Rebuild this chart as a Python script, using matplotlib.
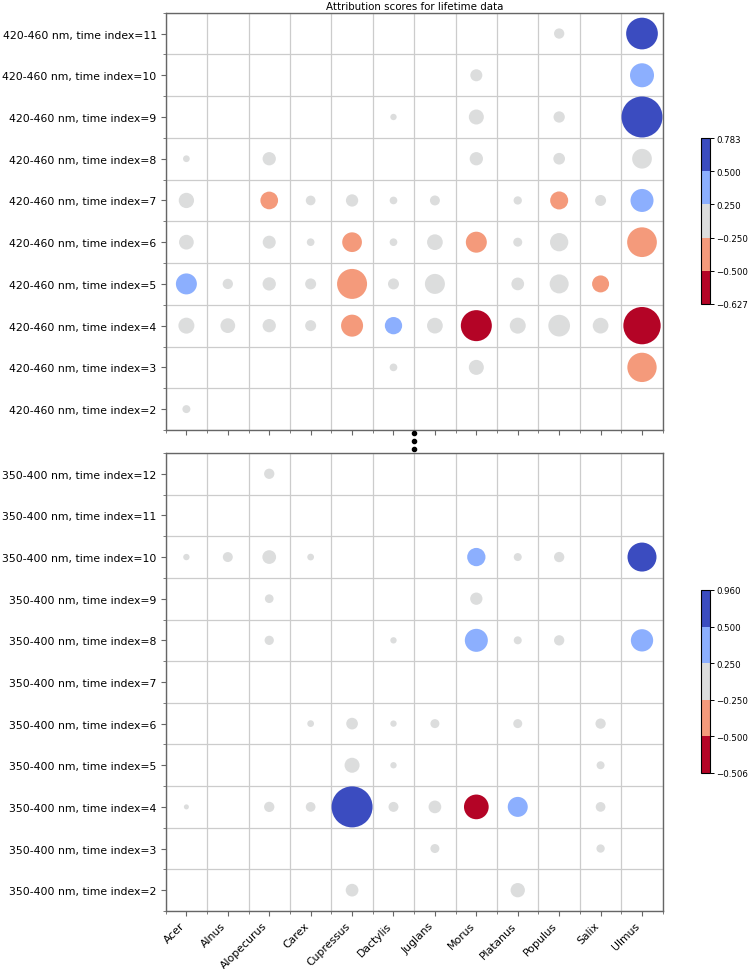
import numpy as np
import matplotlib
matplotlib.use("Agg")
import matplotlib.pyplot as plt
from matplotlib.colors import ListedColormap, BoundaryNorm
from matplotlib.cm import ScalarMappable
from matplotlib.ticker import FuncFormatter

# ---------------- data ----------------
taxa = ["Acer", "Alnus", "Alopecurus", "Carex", "Cupressus", "Dactylis",
        "Juglans", "Morus", "Platanus", "Populus", "Salix", "Ulmus"]

title = "Attribution scores for lifetime data"

top_band = "420-460 nm"
top_rows = [11, 10, 9, 8, 7, 6, 5, 4, 3, 2]
top_time = [11, 11,
            10, 10,
            9, 9, 9, 9,
            8, 8, 8, 8, 8,
            7, 7, 7, 7, 7, 7, 7, 7, 7, 7,
            6, 6, 6, 6, 6, 6, 6, 6, 6, 6,
            5, 5, 5, 5, 5, 5, 5, 5, 5, 5,
            4, 4, 4, 4, 4, 4, 4, 4, 4, 4, 4, 4,
            3, 3, 3,
            2]
top_taxon = ["Populus", "Ulmus",
             "Morus", "Ulmus",
             "Dactylis", "Morus", "Populus", "Ulmus",
             "Acer", "Alopecurus", "Morus", "Populus", "Ulmus",
             "Acer", "Alopecurus", "Carex", "Cupressus", "Dactylis", "Juglans",
             "Platanus", "Populus", "Salix", "Ulmus",
             "Acer", "Alopecurus", "Carex", "Cupressus", "Dactylis", "Juglans",
             "Morus", "Platanus", "Populus", "Ulmus",
             "Acer", "Alnus", "Alopecurus", "Carex", "Cupressus", "Dactylis",
             "Juglans", "Platanus", "Populus", "Salix",
             "Acer", "Alnus", "Alopecurus", "Carex", "Cupressus", "Dactylis",
             "Juglans", "Morus", "Platanus", "Populus", "Salix", "Ulmus",
             "Dactylis", "Morus", "Ulmus",
             "Acer"]
top_score = [0.04, 0.62,
             0.05, 0.42,
             0.01, 0.08, 0.05, 0.783,
             0.02, 0.06, -0.06, 0.05, 0.14,
             0.08, -0.28, 0.03, -0.05, 0.02, 0.04, 0.02, -0.29, 0.04, 0.38,
             0.08, 0.06, 0.02, -0.30, 0.02, 0.09, -0.35, 0.03, 0.12, -0.43,
             0.33, 0.04, 0.06, 0.04, -0.45, 0.04, 0.14, 0.06, 0.13, -0.27,
             0.09, 0.08, 0.06, 0.04, -0.33, 0.28, 0.09, -0.56, 0.09, 0.17, 0.09, -0.627,
             0.02, 0.08, -0.42,
             0.02]
top_strength = [0.063, 0.598,
                0.086, 0.343,
                0.024, 0.134, 0.076, 1.000,
                0.027, 0.105, 0.105, 0.081, 0.231,
                0.139, 0.186, 0.056, 0.090, 0.035, 0.059, 0.041, 0.193, 0.072, 0.315,
                0.129, 0.101, 0.035, 0.231, 0.035, 0.147, 0.262, 0.048, 0.199, 0.525,
                0.262, 0.063, 0.105, 0.072, 0.535, 0.072, 0.238, 0.096, 0.215, 0.172,
                0.152, 0.129, 0.105, 0.072, 0.288, 0.178, 0.147, 0.572, 0.152, 0.280, 0.147, 0.828,
                0.035, 0.134, 0.511,
                0.038]

bot_band = "350-400 nm"
bot_rows = [12, 11, 10, 9, 8, 7, 6, 5, 4, 3, 2]
bot_time = [12,
            10, 10, 10, 10, 10, 10, 10, 10,
            9, 9,
            8, 8, 8, 8, 8, 8,
            6, 6, 6, 6, 6, 6,
            5, 5, 5,
            4, 4, 4, 4, 4, 4, 4, 4, 4,
            3, 3,
            2, 2]
bot_taxon = ["Alopecurus",
             "Acer", "Alnus", "Alopecurus", "Carex", "Morus", "Platanus", "Populus", "Ulmus",
             "Alopecurus", "Morus",
             "Alopecurus", "Dactylis", "Morus", "Platanus", "Populus", "Ulmus",
             "Carex", "Cupressus", "Dactylis", "Juglans", "Platanus", "Salix",
             "Cupressus", "Dactylis", "Salix",
             "Acer", "Alopecurus", "Carex", "Cupressus", "Dactylis", "Juglans",
             "Morus", "Platanus", "Salix",
             "Juglans", "Salix",
             "Cupressus", "Platanus"]
bot_score = [0.04,
             0.01, 0.04, 0.07, 0.02, 0.30, 0.02, 0.04, 0.62,
             0.03, 0.05,
             0.03, 0.01, 0.40, 0.02, 0.04, 0.38,
             0.02, 0.05, 0.01, 0.03, 0.03, 0.04,
             0.08, 0.01, 0.02,
             0.01, 0.04, 0.03, 0.960, 0.04, 0.06, -0.506, 0.33, 0.03,
             0.03, 0.02,
             0.06, 0.07]
bot_strength = [0.063,
                0.024, 0.059, 0.112, 0.027, 0.199, 0.038, 0.063, 0.500,
                0.045, 0.090,
                0.051, 0.024, 0.315, 0.038, 0.063, 0.296,
                0.027, 0.081, 0.024, 0.048, 0.048, 0.063,
                0.134, 0.024, 0.038,
                0.015, 0.063, 0.056, 1.000, 0.059, 0.096, 0.363, 0.238, 0.056,
                0.048, 0.041,
                0.096, 0.122]

inner_bounds = [-0.5, -0.25, 0.25, 0.5]

# ---------------- style ----------------
DPI = 100
fig = plt.figure(figsize=(7.49, 9.70), dpi=DPI)
plt.rcParams['font.family'] = ['DejaVu Sans']

cmap = ListedColormap(plt.cm.coolwarm_r(np.linspace(0, 1, 5)))
SMAX = (41 * 72 / DPI) ** 2  # marker area (pt^2) for strength 1.0

spine_col = "#666666"
grid_col = "#cccccc"
LABEL_FS = 7.8
CB_FS = 6.2


def minus(x, pos=None):
    return f"{x:.3f}".replace("-", "\u2212")


def panel(ax, cax, band, rows, times, names, scores, strengths, show_x):
    n = len(rows)
    ypos = {t: n - 1 - i for i, t in enumerate(rows)}
    xs = [taxa.index(nm) for nm in names]
    ys = [ypos[t] for t in times]
    sc = np.array(scores)
    bounds = [sc.min()] + inner_bounds + [sc.max()]
    norm = BoundaryNorm(bounds, cmap.N)
    ax.scatter(xs, ys, s=np.array(strengths) * SMAX, c=sc, cmap=cmap,
               norm=norm, linewidths=0, zorder=2, clip_on=False)
    ax.set_xlim(-0.5, len(taxa) - 0.5)
    ax.set_ylim(-0.5, n - 0.5)
    ax.set_xticks(range(len(taxa)))
    ax.set_yticks([ypos[t] for t in rows])
    ax.set_yticklabels([f"{band}, time index={t}" for t in rows],
                       fontsize=LABEL_FS)
    ax.set_xticks(np.arange(-0.5, len(taxa)), minor=True)
    ax.set_yticks(np.arange(-0.5, n), minor=True)
    ax.set_axisbelow(True)
    ax.grid(which="minor", color=grid_col, linewidth=0.9)
    ax.grid(which="major", visible=False)
    ax.tick_params(which="major", length=3.5, width=0.8, color=spine_col,
                   pad=3)
    ax.tick_params(which="minor", length=2, width=0.6, color=spine_col)
    if show_x:
        ax.set_xticklabels(taxa, rotation=45, ha="right", fontsize=LABEL_FS)
    else:
        ax.tick_params(labelbottom=False)
    for sp in ax.spines.values():
        sp.set_color(spine_col)
        sp.set_linewidth(1.0)
    sm = ScalarMappable(norm=norm, cmap=cmap)
    cb = fig.colorbar(sm, cax=cax, ticks=bounds, format=FuncFormatter(minus))
    cb.ax.tick_params(labelsize=CB_FS, length=3, width=0.7, pad=2)
    cb.outline.set_linewidth(0.8)
    return ax


ax_top = fig.add_axes([0.2212, 0.5557, 0.6636, 0.4302])
cax_top = fig.add_axes([0.9359, 0.6856, 0.0116, 0.1711])
ax_bot = fig.add_axes([0.2212, 0.0598, 0.6636, 0.4722])
cax_bot = fig.add_axes([0.9359, 0.2021, 0.0116, 0.1887])

panel(ax_top, cax_top, top_band, top_rows, top_time, top_taxon,
      top_score, top_strength, False)
panel(ax_bot, cax_bot, bot_band, bot_rows, bot_time, bot_taxon,
      bot_score, bot_strength, True)

ax_top.set_title(title, fontsize=7.4, pad=3)

# vertical ellipsis marking the break between panels
ax_bot.plot([5.5, 5.5, 5.5], [1.0437, 1.0257, 1.0077], "o", color="black",
            markersize=3.0, transform=ax_bot.get_xaxis_transform(),
            clip_on=False)

fig.savefig("out.png", dpi=DPI)
